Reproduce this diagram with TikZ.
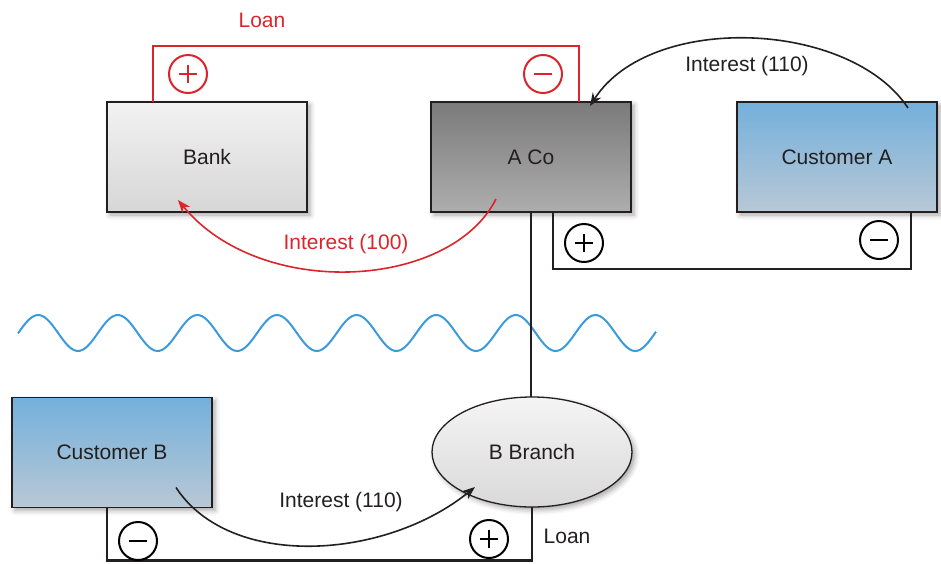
\documentclass[tikz,border=0pt]{standalone}
\usepackage{fontspec}
\setmainfont{Liberation Sans}
\usetikzlibrary{arrows.meta,shapes.geometric,shadows.blur}
\definecolor{loanred}{RGB}{218,37,44}
\definecolor{wavecol}{RGB}{58,155,220}
\definecolor{ink}{RGB}{35,31,32}
\tikzset{
	party/.style={draw=ink, line width=1.3pt, minimum width=200pt, minimum height=110pt,
		outer sep=0pt, text=ink,
		blur shadow={shadow xshift=3pt, shadow yshift=-3pt, shadow blur radius=5pt, shadow opacity=35}},
	bankbox/.style={party, top color=black!5, bottom color=black!16},
	acobox/.style={party, top color=black!52, bottom color=black!32},
	custbox/.style={party, top color={rgb,255:red,116;green,176;blue,219}, bottom color={rgb,255:red,184;green,200;blue,214}},
	branch/.style={party, ellipse, minimum width=200pt, minimum height=110pt, top color=black!4, bottom color=black!15},
	sign/.style={circle, draw, line width=2pt, minimum size=38pt, inner sep=0pt},
	plussign/.style={sign, path picture={
		\draw[line width=2.3pt] ([xshift=-9pt]path picture bounding box.center) -- ([xshift=9pt]path picture bounding box.center)
			([yshift=-9pt]path picture bounding box.center) -- ([yshift=9pt]path picture bounding box.center);}},
	minussign/.style={sign, path picture={
		\draw[line width=2.3pt] ([xshift=-9pt]path picture bounding box.center) -- ([xshift=9pt]path picture bounding box.center);}},
	wire/.style={line width=2.2pt, draw=ink},
	flow/.style={line width=1.6pt, -{Stealth[length=13pt,width=10pt]}},
	lbl/.style={text=ink},
}
\begin{document}
\begin{tikzpicture}[x=1pt,y=-1pt,font=\fontsize{21}{25}\selectfont]
		%%%%% START %%%%%
		\useasboundingbox (0,0) rectangle (941,563);
		
		% wave
		\draw[wavecol, line width=2pt, domain=18:656, samples=240, smooth]
			plot (\x, {333-18*cos(4.5226*(\x-38.2))});
		
		% parties
		\node[bankbox] (bank) at (207,157) {Bank};
		\node[acobox] (aco) at (531,157) {A Co};
		\node[custbox] (custA) at (837,157) {Customer A};
		\node[custbox] (custB) at (112,452.5) {Customer B};
		\node[branch] (bbranch) at (532,452) {B Branch};
		
		% loan bank - A Co
		\coordinate (loanL) at ([xshift=46pt]bank.north west);
		\coordinate (loanR) at ([xshift=-52pt]aco.north east);
		\draw[wire, draw=loanred] (loanL) -- ++(0,-56) -| (loanR);
		\node[plussign, draw=loanred, loanred] (bankplus) at (188,74) {};
		\node[minussign, draw=loanred, loanred] (acominus) at (543,74) {};
		\node[text=loanred] (loantop) at (262,20) {Loan};
		
		% A Co - Customer A
		\coordinate (aL) at ([xshift=-78pt]aco.south east);
		\coordinate (aR) at ([xshift=-26pt]custA.south east);
		\draw[wire] (aL) -- ++(0,57) -| (aR);
		\node[plussign] (acoplus) at (584,243) {};
		\node[minussign] (custAminus) at (879,240) {};
		
		% A Co - B Branch
		\draw[line width=1.5pt, ink] (aco.south) -- (aco.south |- bbranch.north);
		
		% B Branch - Customer B
		\coordinate (bL) at ([xshift=95pt]custB.south west);
		\draw[wire] (bL) -- ++(0,53) -| (bbranch.south);
		\node[minussign] (custBminus) at (138,541) {};
		\node[plussign] (branchplus) at (489,539) {};
		\node[lbl] (loanbot) at (567,536) {Loan};
		
		% interest flows
		\coordinate (iaS) at ([xshift=-29pt,yshift=-6pt]custA.north east);
		\coordinate (iaE) at ([xshift=-41pt,yshift=-4pt]aco.north east);
		\draw[flow, ink] (iaS) .. controls (850,20) and (650,12) .. (iaE);
		\node[lbl] (intA) at (747,66) {Interest (110)};
		
		\coordinate (ibS) at ([xshift=-135pt,yshift=13pt]aco.south east);
		\coordinate (ibE) at ([xshift=71pt,yshift=12pt]bank.south west);
		\draw[flow, loanred] (ibS) .. controls (450,290) and (260,300) .. (ibE);
		\node[text=loanred] (intBank) at (346,244) {Interest (100)};
		
		\coordinate (icS) at ([xshift=164pt,yshift=20pt]custB.south west);
		\coordinate (icE) at (475,487);
		\draw[flow, ink] (icS) .. controls (230,570) and (385,560) .. (icE);
		\node[lbl] (intB) at (341,502) {Interest (110)};
		%%%%% END %%%%%
\end{tikzpicture}
\end{document}
